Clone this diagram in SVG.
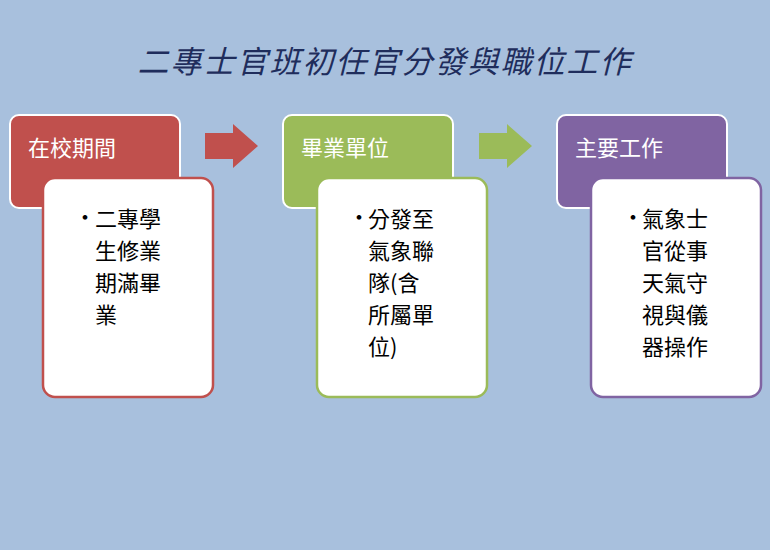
<svg xmlns="http://www.w3.org/2000/svg" width="770" height="550" viewBox="0 0 770 550">
<style>
.hd{stroke:#fff;stroke-width:2}
.dt{fill:#fff;stroke-width:2.5}
.ht{font-family:"Noto Sans CJK TC","Noto Sans CJK SC",sans-serif;font-size:22px;fill:#fff}
.tx{font-family:"Noto Sans CJK TC","Noto Sans CJK SC",sans-serif;font-size:22px;fill:#000}
</style>
<rect width="770" height="550" fill="#a8c0dd"/>
<text x="385" y="73" text-anchor="middle" font-family="'Noto Sans CJK TC',sans-serif" font-size="31" font-style="italic" fill="#1f2d5c" letter-spacing="2">二專士官班初任官分發與職位工作</text>
<g id="connectors">
<polygon points="205,133 233,133 233,124 258,146 233,168 233,159 205,159" fill="#c0504d"/>
<polygon points="479,133 507,133 507,124 532,146 507,168 507,159 479,159" fill="#9bbb59"/>
</g>
<g id="n1">
<rect class="hd" x="10" y="115" width="170" height="93" rx="9" fill="#c0504d"/>
<text class="ht" x="28" y="156">在校期間</text>
<rect class="dt" x="43" y="178" width="170" height="219" rx="12" stroke="#c0504d"/>
<text class="tx" x="74" y="225">•</text>
<text class="tx"><tspan x="95" y="227">二專學</tspan><tspan x="95" y="259">生修業</tspan><tspan x="95" y="291">期滿畢</tspan><tspan x="95" y="323">業</tspan></text>
</g>
<g id="n2">
<rect class="hd" x="283" y="115" width="170" height="93" rx="9" fill="#9bbb59"/>
<text class="ht" x="301" y="156">畢業單位</text>
<rect class="dt" x="317" y="178" width="170" height="219" rx="12" stroke="#9bbb59"/>
<text class="tx" x="348" y="225">•</text>
<text class="tx"><tspan x="368" y="227">分發至</tspan><tspan x="368" y="259">氣象聯</tspan><tspan x="368" y="291">隊(含</tspan><tspan x="368" y="323">所屬單</tspan><tspan x="368" y="355">位)</tspan></text>
</g>
<g id="n3">
<rect class="hd" x="557" y="115" width="170" height="93" rx="9" fill="#8064a2"/>
<text class="ht" x="575" y="156">主要工作</text>
<rect class="dt" x="591" y="178" width="170" height="219" rx="12" stroke="#8064a2"/>
<text class="tx" x="622" y="225">•</text>
<text class="tx"><tspan x="642" y="227">氣象士</tspan><tspan x="642" y="259">官從事</tspan><tspan x="642" y="291">天氣守</tspan><tspan x="642" y="323">視與儀</tspan><tspan x="642" y="355">器操作</tspan></text>
</g>
</svg>
